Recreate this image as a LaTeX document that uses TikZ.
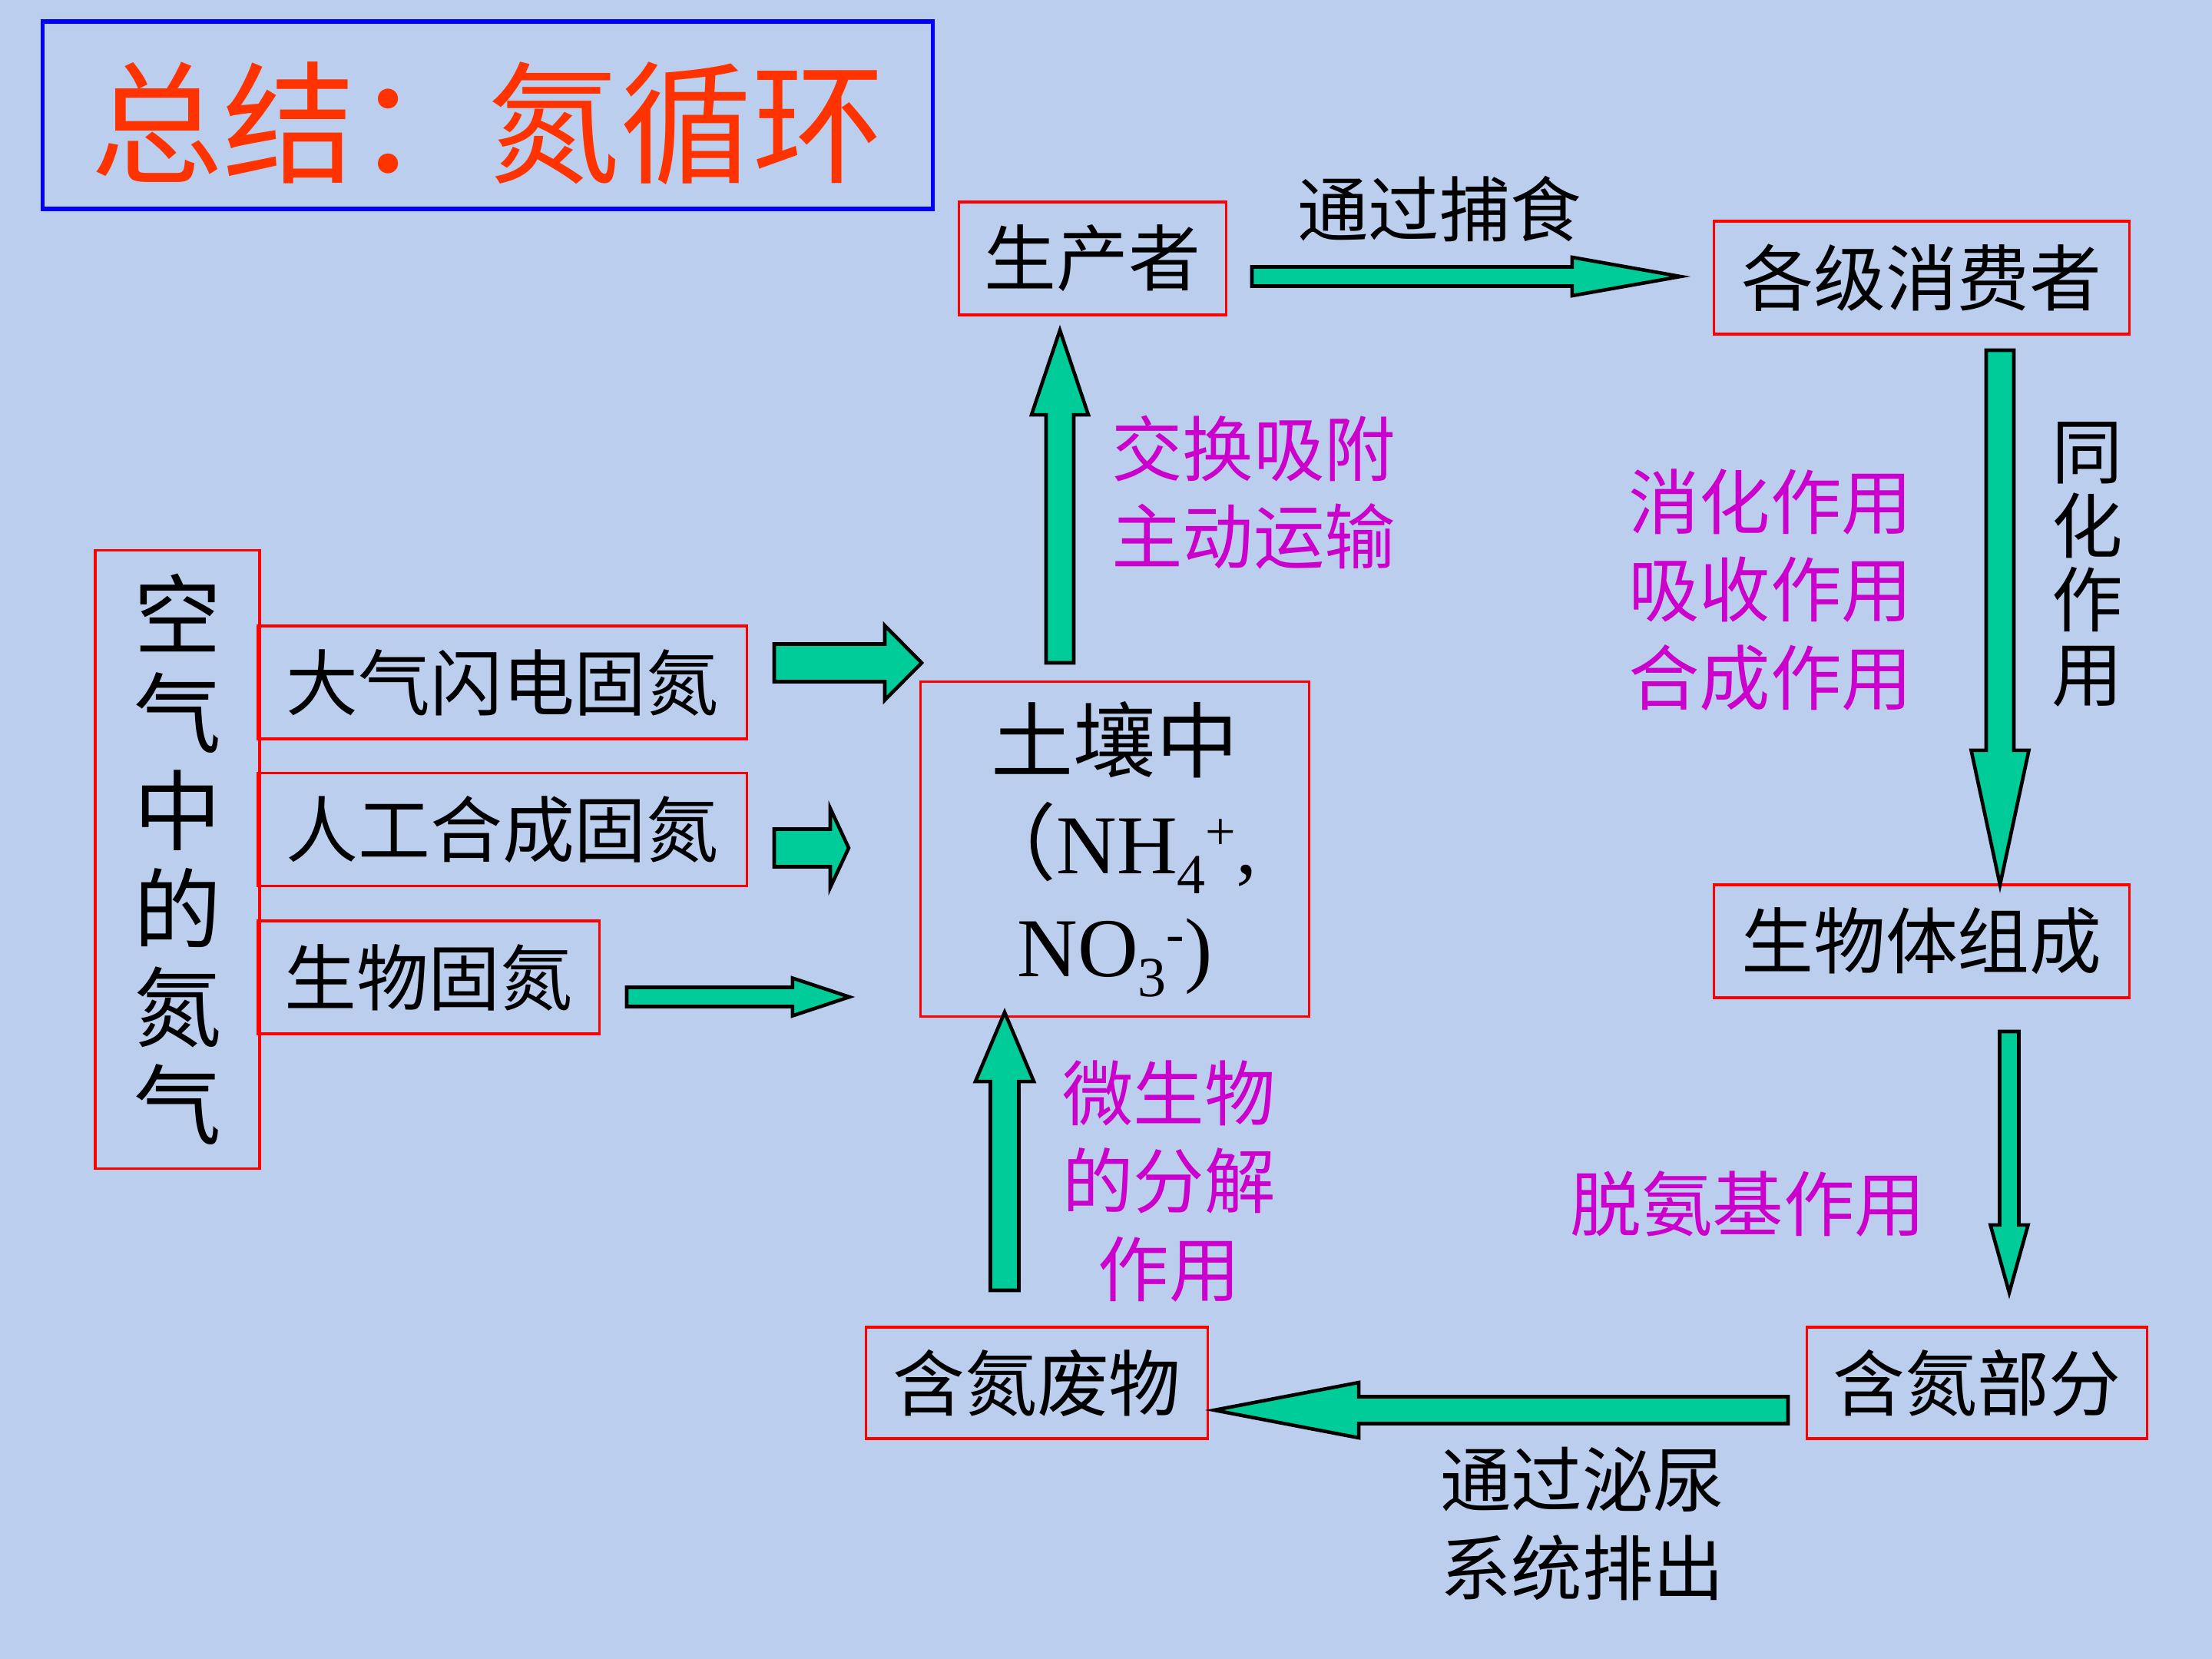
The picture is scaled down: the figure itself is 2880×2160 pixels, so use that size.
\documentclass[tikz,border=0pt]{standalone}
\usepackage{fontspec}
\setmainfont{Liberation Serif}
\newfontfamily\cjk{Noto Sans CJK SC}
\usetikzlibrary{calc}

\definecolor{bg}{RGB}{188,206,238}
\definecolor{arrgreen}{RGB}{0,204,153}
\definecolor{mag}{RGB}{204,0,204}
\definecolor{titlered}{RGB}{255,51,0}

\tikzset{
    box/.style={draw=red, line width=0.9pt, inner sep=0pt, font=\cjk\fontsize{26.7}{32}\selectfont},
    lbl/.style={inner sep=0pt, align=center, font=\cjk\fontsize{26.3}{32.5}\selectfont},
    blk/.style={fill=arrgreen, draw=black, line width=1.3pt, line join=miter},
}

% chemical sub- and superscripts
\newcommand{\chsub}[1]{\raisebox{-7.4pt}{\fontsize{21}{21}\selectfont #1}}
\newcommand{\chsup}[1]{\raisebox{9pt}{\fontsize{20}{20}\selectfont #1}}

% block arrow: from, to, half shaft, half head, head length
\newcommand{\blkarrow}[5]{%
    \coordinate (hb) at ($(#2)!#5!(#1)$);
    \draw[blk] ($(#1)!#3!90:(#2)$) -- ($(hb)!#3!-90:(#1)$) -- ($(hb)!#4!-90:(#1)$)
        -- (#2) -- ($(hb)!#4!90:(#1)$) -- ($(hb)!#3!90:(#1)$) -- ($(#1)!#3!-90:(#2)$) -- cycle;
}

\begin{document}
\begin{tikzpicture}[x=0.01cm, y=-0.01cm]
    \fill[bg] (0,0) rectangle (2880,2160);
    \useasboundingbox (0,0) rectangle (2880,2160);

    \node[draw=blue, line width=1.5pt, minimum width=11.58cm, minimum height=2.44cm,
        text height=48.8pt, text depth=5.9pt,
        text=titlered, font=\cjk\fontsize{49}{55}\selectfont] (title) at (635,150) {总结：氮循环};

    % boxes
    \node[box, minimum width=3.47cm, minimum height=1.47cm] (prod) at (1422.5,336.5) {生产者};
    \node[box, minimum width=5.40cm, minimum height=1.47cm] (cons) at (2502,361.5) {各级消费者};
    \node[box, minimum width=5.40cm, minimum height=1.47cm] (body) at (2502,1225.5) {生物体组成};
    \node[box, minimum width=4.42cm, minimum height=1.45cm] (part) at (2574,1800.5) {含氮部分};
    \node[box, minimum width=4.44cm, minimum height=1.45cm] (waste) at (1350,1800.5) {含氮废物};
    \node[box, minimum width=2.14cm, minimum height=8.04cm, align=center,
        font=\cjk\fontsize{32.4}{36.3}\selectfont] (air) at (231,1119) {空\\气\\中\\的\\氮\\气};
    \node[box, minimum width=6.37cm, minimum height=1.47cm] (fix1) at (654,888.5) {大气闪电固氮};
    \node[box, minimum width=6.37cm, minimum height=1.47cm] (fix2) at (654,1080) {人工合成固氮};
    \node[box, minimum width=4.45cm, minimum height=1.47cm] (fix3) at (558,1272.5) {生物固氮};
    \node[box, minimum width=5.05cm, minimum height=4.35cm, align=center,
        font=\fontsize{31}{38}\selectfont] (soil) at (1451.5,1105.5)
        {{\cjk\fontsize{30.5}{38}\selectfont 土壤中}\\
         {\cjk （}NH\chsub{4}\chsup{+},\\
         NO\chsub{3}\chsup{-})};

    % labels
    \node[lbl] (eat) at (1874,272) {通过捕食};
    \node[lbl, text=mag] (absorb) at (1632,641) {交换吸附\\主动运输};
    \node[lbl, text=mag] (digest) at (2305,768) {消化作用\\吸收作用\\合成作用};
    \node[lbl, font=\cjk\fontsize{26.3}{27.5}\selectfont] (assim) at (2718,735) {同\\化\\作\\用};
    \node[lbl, text=mag] (decomp) at (1522,1538) {微生物\\的分解\\作用};
    \node[lbl, text=mag] (deamin) at (2276,1567) {脱氨基作用};
    \node[lbl] (excrete) at (2060,1984) {通过泌尿\\系统排出};

    % arrow ends
    \coordinate (prod-out) at (1630,360);   \coordinate (cons-in) at (2188,360);
    \coordinate (cons-out) at (2604,456);   \coordinate (body-in) at (2604,1152);
    \coordinate (body-out) at (2616,1343);  \coordinate (part-in) at (2616,1683);
    \coordinate (part-out) at (2328,1836);  \coordinate (waste-in) at (1581,1836);
    \coordinate (waste-out) at (1308,1680); \coordinate (soil-in) at (1308,1318);
    \coordinate (soil-out) at (1380,863);   \coordinate (prod-in) at (1380,430);
    \coordinate (fix1-out) at (1008,863);   \coordinate (fix1-in) at (1200,863);
    \coordinate (fix2-out) at (1008,1104);  \coordinate (fix2-in) at (1105,1104);
    \coordinate (fix3-out) at (816,1298);   \coordinate (fix3-in) at (1106,1298);

    \blkarrow{prod-out}{cons-in}{0.125cm}{0.25cm}{1.41cm}
    \blkarrow{cons-out}{body-in}{0.18cm}{0.375cm}{1.75cm}
    \blkarrow{body-out}{part-in}{0.125cm}{0.245cm}{0.88cm}
    \blkarrow{part-out}{waste-in}{0.175cm}{0.36cm}{1.88cm}
    \blkarrow{waste-out}{soil-in}{0.185cm}{0.38cm}{0.90cm}
    \blkarrow{soil-out}{prod-in}{0.18cm}{0.37cm}{1.10cm}
    \blkarrow{fix1-out}{fix1-in}{0.245cm}{0.485cm}{0.48cm}
    \blkarrow{fix2-out}{fix2-in}{0.245cm}{0.515cm}{0.24cm}
    \blkarrow{fix3-out}{fix3-in}{0.125cm}{0.245cm}{0.74cm}
\end{tikzpicture}
\end{document}
